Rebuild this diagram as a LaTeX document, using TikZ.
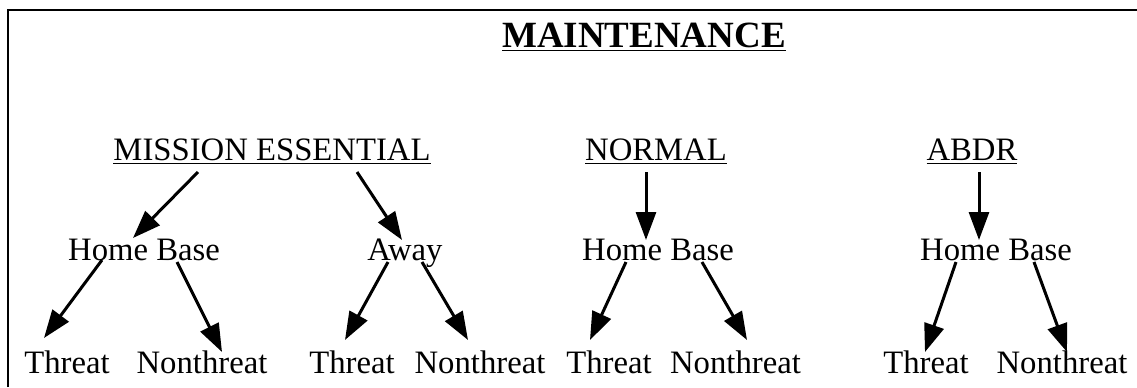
\documentclass[tikz,border=0pt]{standalone}
\usepackage{fontspec}
\setmainfont{Liberation Serif}
\usepackage{tikz}
\usetikzlibrary{positioning,calc,arrows.meta}

\begin{document}
\begin{tikzpicture}[x=0.5pt, y=-0.5pt,
    lbl/.style={inner sep=0pt, anchor=base, font=\fontsize{16.35}{19}\selectfont},
    arr/.style={line width=1.5pt, -{Triangle[length=14pt, width=10pt]}}]
    \useasboundingbox (0,0) rectangle (1137,387);

    % frame
    \coordinate (fb) at (8,387);
    \coordinate (ft) at (1137,10);
    \draw[line width=1pt] (fb) |- (ft);

    % title
    \node[lbl, font=\fontsize{18.5}{21}\selectfont\bfseries] (maint) at (644,47) {\underline{MAINTENANCE}};

    % categories
    \node[lbl] (mission) at (272,160) {\underline{MISSION ESSENTIAL}};
    \node[lbl] (normal) at (656,160) {\underline{NORMAL}};
    \node[lbl] (abdr) at (972,160) {\underline{ABDR}};

    % bases
    \node[lbl] (homeA) at (144,260) {Home Base};
    \node[lbl] (away) at (405,260) {Away};
    \node[lbl] (homeB) at (658,260) {Home Base};
    \node[lbl] (homeC) at (996,260) {Home Base};

    % threats
    \node[lbl] (thrA) at (67,373) {Threat};
    \node[lbl] (nonA) at (202,373) {Nonthreat};
    \node[lbl] (thrB) at (352,373) {Threat};
    \node[lbl] (nonB) at (480,373) {Nonthreat};
    \node[lbl] (thrC) at (609,373) {Threat};
    \node[lbl] (nonC) at (735.5,373) {Nonthreat};
    \node[lbl] (thrD) at (926,373) {Threat};
    \node[lbl] (nonD) at (1062,373) {Nonthreat};

    % mission essential
    \draw[arr] ($(mission.base)+(-74,12)$) -- ($(homeA.base)+(-11,-22)$);
    \draw[arr] ($(mission.base)+(85,12)$) -- ($(away.base)+(-3,-20)$);
    \draw[arr] ($(homeA.base)+(-42,0)$) -- ($(thrA.base)+(-23,-35)$);
    \draw[arr] ($(homeA.base)+(33,2)$) -- ($(nonA.base)+(20,-21)$);
    \draw[arr] ($(away.base)+(-17,2)$) -- ($(thrB.base)+(-7,-33)$);
    \draw[arr] ($(away.base)+(17,2)$) -- ($(nonB.base)+(-12,-33)$);

    % normal
    \draw[arr] ($(normal.base)+(-10,12)$) -- ($(homeB.base)+(-12,-20)$);
    \draw[arr] ($(homeB.base)+(-32,2)$) -- ($(thrC.base)+(-19,-33)$);
    \draw[arr] ($(homeB.base)+(44,2)$) -- ($(nonC.base)+(11.5,-33)$);

    % abdr
    \draw[arr] ($(abdr.base)+(7,12)$) -- ($(homeC.base)+(-17,-20)$);
    \draw[arr] ($(homeC.base)+(-40,2)$) -- ($(thrD.base)+(-1,-21)$);
    \draw[arr] ($(homeC.base)+(38,2)$) -- ($(nonD.base)+(5,-21)$);
\end{tikzpicture}
\end{document}
